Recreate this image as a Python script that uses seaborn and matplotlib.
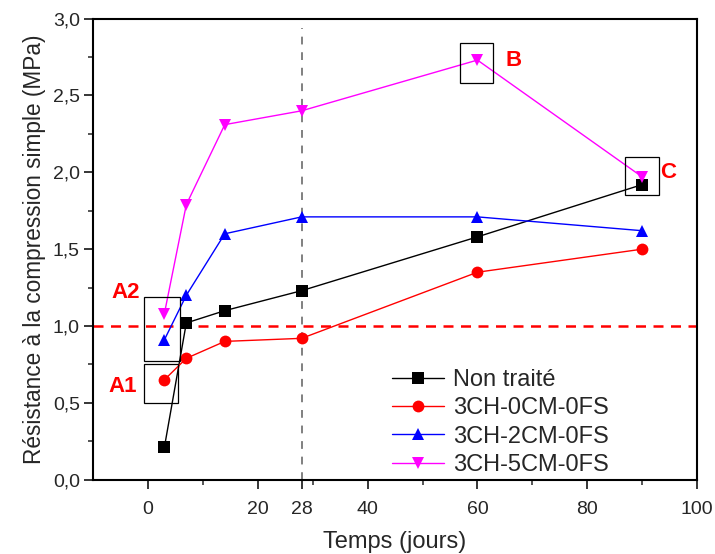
import matplotlib
matplotlib.use("Agg")
import matplotlib.pyplot as plt
import seaborn as sns
import pandas as pd
from matplotlib.patches import Rectangle
from matplotlib.ticker import MultipleLocator, FixedLocator

days = [3, 7, 14, 28, 60, 90]
non_traite = [0.21, 1.02, 1.10, 1.23, 1.58, 1.92]
ch_0cm = [0.65, 0.79, 0.90, 0.92, 1.35, 1.50]
ch_2cm = [0.91, 1.20, 1.60, 1.71, 1.71, 1.62]
ch_5cm = [1.08, 1.79, 2.31, 2.40, 2.73, 1.97]
series_names = ["Non traité", "3CH-0CM-0FS", "3CH-2CM-0FS", "3CH-5CM-0FS"]
x_ticks = [0, 20, 28, 40, 60, 80, 100]
y_ticks = [0.0, 0.5, 1.0, 1.5, 2.0, 2.5, 3.0]

sns.set_theme(style="white")
plt.rcParams['font.family'] = ['Liberation Sans', 'DejaVu Sans']

rows = []
for name, vals in zip(series_names, [non_traite, ch_0cm, ch_2cm, ch_5cm]):
    for d, v in zip(days, vals):
        rows.append({"Temps": d, "Resistance": v, "Serie": name})
df = pd.DataFrame(rows)

colors = {"Non traité": "black", "3CH-0CM-0FS": "#ff0000",
          "3CH-2CM-0FS": "#0000ff", "3CH-5CM-0FS": "#ff00ff"}
markers = {"Non traité": "s", "3CH-0CM-0FS": "o",
           "3CH-2CM-0FS": "^", "3CH-5CM-0FS": "v"}

fig = plt.figure(figsize=(7.15, 5.54), dpi=100)
ax = fig.add_axes([0.130, 0.134, 0.845, 0.8325])

ax.axhline(1.0, color="#ff0000", linestyle=(0, (4, 3)), linewidth=1.8, zorder=1)
ax.axvline(28, color="gray", linestyle=(0, (4, 4)), linewidth=1.4, zorder=1, ymax=0.98)

sns.lineplot(data=df, x="Temps", y="Resistance", hue="Serie", style="Serie",
             hue_order=series_names, style_order=series_names,
             palette=colors, markers=markers, dashes=False, markersize=8.5,
             markeredgewidth=0, linewidth=1.0, ax=ax, zorder=3)

ax.set_xlim(-10, 100)
ax.set_ylim(0, 3.0)
ax.xaxis.set_major_locator(FixedLocator(x_ticks))
ax.xaxis.set_minor_locator(FixedLocator([10, 30, 50, 70, 90]))
ax.set_yticks(y_ticks)
ax.yaxis.set_minor_locator(MultipleLocator(0.25))
ax.set_yticklabels([f"{v:.1f}".replace(".", ",") for v in y_ticks])
ax.set_xticklabels([str(t) for t in x_ticks])

for lab in ax.get_xticklabels() + ax.get_yticklabels():
    lab.set_fontsize(14)

ax.tick_params(axis="both", which="major", direction="out", length=6.5, width=1.3,
               bottom=True, left=True)
ax.tick_params(axis="x", which="major", pad=8.5)
ax.tick_params(axis="y", which="major", pad=3)
ax.tick_params(axis="both", which="minor", direction="out", length=3.5, width=1.1,
               bottom=True, left=True)
for s in ax.spines.values():
    s.set_color("black")
    s.set_linewidth(1.5)

ax.set_xlabel("Temps (jours)", fontsize=17, labelpad=10)
ax.set_ylabel("Résistance à la compression simple (MPa)", fontsize=16.3, labelpad=5)

leg = ax.legend(loc="lower left", bbox_to_anchor=(0.495, 0.008), frameon=False,
                fontsize=17, handlelength=2.2, handletextpad=0.4, labelspacing=0.27,
                borderpad=0, borderaxespad=0)

# annotation boxes and labels
boxes = [(-0.7, 0.775, 6.5, 0.415), (-0.7, 0.50, 6.2, 0.255),
         (56.8, 2.58, 6.0, 0.26), (86.9, 1.85, 6.2, 0.25)]
for (bx, by, bw, bh) in boxes:
    ax.add_patch(Rectangle((bx, by), bw, bh, fill=False, edgecolor="black",
                           linewidth=0.9, zorder=4))
labels = [("A2", -4.0, 1.217), ("A1", -4.55, 0.605), ("B", 66.5, 2.73), ("C", 94.7, 2.0)]
for t, lx, ly in labels:
    ax.text(lx, ly, t, color="#ff0000", fontsize=16, fontweight="bold",
            ha="center", va="center", zorder=5)

fig.savefig("out.png", dpi=100)
